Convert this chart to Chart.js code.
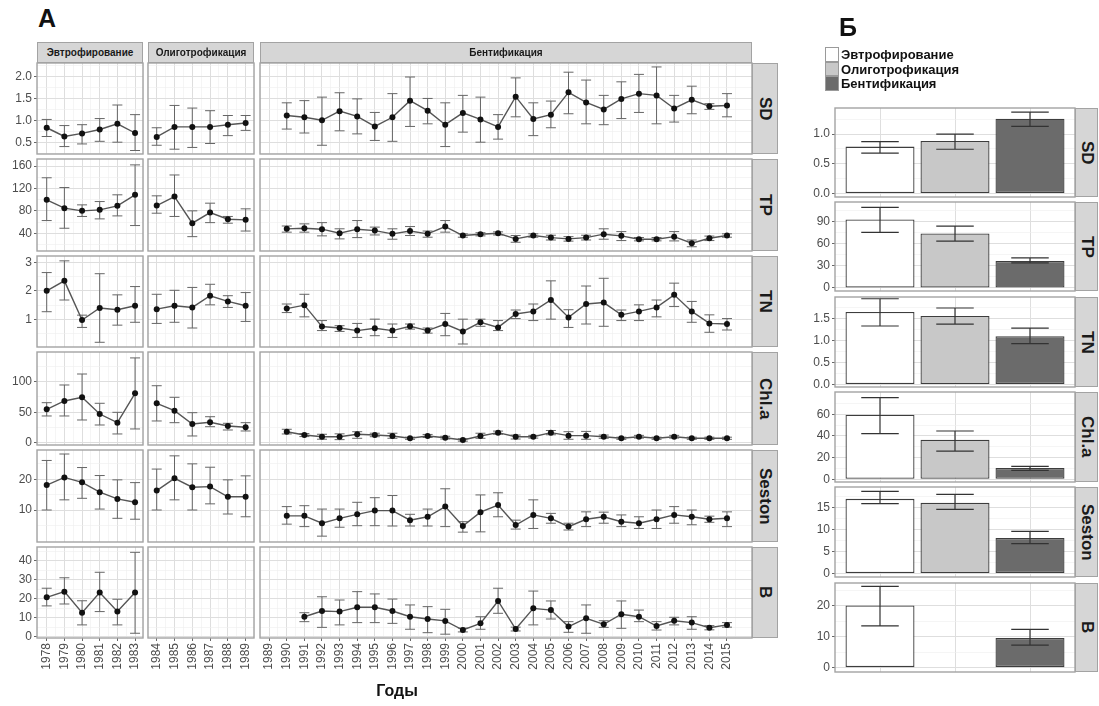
<!DOCTYPE html>
<html>
<head>
<meta charset="utf-8">
<script src="https://cdn.jsdelivr.net/npm/chart.js@4.4.1/dist/chart.umd.min.js"></script>
<style>
  body { margin: 0; width: 1099px; height: 706px; position: relative; overflow: hidden; background: #fff;
         font-family: "Liberation Sans", Arial, sans-serif; }
  canvas, .strip, .txt, .key { position: absolute; }
  .strip { background: #d6d6d6; border: 1px solid #a3a3a3; box-sizing: border-box; display: flex;
           align-items: center; justify-content: center; color: #1a1a1a; font-weight: bold; overflow: hidden; }
  .strip.v span { writing-mode: vertical-rl; }
  .txt { font-weight: bold; color: #111; line-height: 1; white-space: nowrap; }
  .key { border: 1px solid #9a9a9a; box-sizing: border-box; }
</style>
</head>
<body>
<script>
// ─── Данные ──────────────────────────────────────────────────────────────────
const years = [1978, 1979, 1980, 1981, 1982, 1983,
  1984, 1985, 1986, 1987, 1988, 1989,
  1990, 1991, 1992, 1993, 1994, 1995, 1996, 1997, 1998, 1999, 2000, 2001, 2002,
  2003, 2004, 2005, 2006, 2007, 2008, 2009, 2010, 2011, 2012, 2013, 2014, 2015];
const periodNames = ["Эвтрофирование", "Олиготрофикация", "Бентификация"];
const periodStart = [0, 6, 12];
const periodEnd = [6, 12, 38];
const xTicksEut = [1978, 1979, 1980, 1981, 1982, 1983];
const xTicksOlig = [1984, 1985, 1986, 1987, 1988, 1989];
const xTicksBent = [1989, 1990, 1991, 1992, 1993, 1994, 1995, 1996, 1997, 1998, 1999, 2000, 2001, 2002,
  2003, 2004, 2005, 2006, 2007, 2008, 2009, 2010, 2011, 2012, 2013, 2014, 2015];
const varNames = ["SD", "TP", "TN", "Chl.a", "Seston", "B"];

const sd_mean = [0.83, 0.63, 0.70, 0.79, 0.92, 0.71, 0.62, 0.85, 0.85, 0.85, 0.90, 0.94,
  1.11, 1.07, 1.00, 1.21, 1.09, 0.86, 1.07, 1.45, 1.22, 0.90, 1.17, 1.02, 0.85, 1.54, 1.03, 1.13, 1.64, 1.41, 1.25, 1.49, 1.61, 1.57, 1.27, 1.47, 1.32, 1.34];
const sd_lo = [0.63, 0.40, 0.46, 0.52, 0.50, 0.31, 0.43, 0.34, 0.38, 0.47, 0.65, 0.77,
  0.80, 0.71, 0.43, 0.76, 0.69, 0.54, 0.52, 0.86, 0.92, 0.40, 0.73, 0.50, 0.57, 1.08, 0.65, 0.83, 1.15, 0.92, 0.90, 1.04, 1.18, 0.92, 0.96, 1.15, 1.25, 1.08];
const sd_hi = [1.02, 0.88, 0.90, 1.04, 1.35, 1.13, 0.83, 1.34, 1.28, 1.22, 1.11, 1.11,
  1.40, 1.45, 1.53, 1.63, 1.49, 1.18, 1.61, 1.99, 1.50, 1.40, 1.57, 1.53, 1.13, 1.97, 1.40, 1.44, 2.10, 1.92, 1.57, 1.88, 2.05, 2.22, 1.57, 1.78, 1.38, 1.61];

const tp_mean = [99.6, 84.8, 80, 81.8, 89, 108.6, 89.5, 105.5, 58, 77, 65, 64,
  47.9, 49, 47.3, 40, 47.3, 44.8, 39, 44, 39, 52, 36, 38.4, 40, 30, 36, 32.3, 30, 32.3, 38.4, 35.4, 29.4, 29.4, 34, 22.3, 31.2, 36];
const tp_lo = [62.7, 49, 70, 65.7, 71, 53.8, 75.8, 70, 34, 59, 58, 44,
  42, 42, 35.4, 30, 32.3, 37, 29.4, 36, 33, 42, 33, 35.4, 37, 24, 33, 28, 26, 28, 29.4, 27, 26.5, 26.5, 26.4, 16, 27, 33];
const tp_hi = [139, 121.6, 90.7, 96.6, 108.6, 162, 106.8, 144, 80, 93.7, 70, 83.6,
  53, 56.8, 59, 48, 62.7, 51, 48, 52, 44, 62.7, 39, 41, 42.5, 36, 39, 36.5, 34, 36.5, 48, 43, 32.5, 32.5, 43, 28, 35, 39];

const tn_mean = [2.0, 2.35, 0.98, 1.40, 1.34, 1.48, 1.36, 1.48, 1.42, 1.83, 1.63, 1.48,
  1.38, 1.50, 0.75, 0.70, 0.61, 0.69, 0.61, 0.76, 0.61, 0.84, 0.58, 0.90, 0.72, 1.19, 1.28, 1.68, 1.07, 1.54, 1.59, 1.16, 1.28, 1.42, 1.86, 1.28, 0.86, 0.84];
const tn_lo = [1.27, 1.68, 0.72, 0.20, 0.80, 0.90, 0.86, 0.90, 0.70, 1.51, 1.42, 0.93,
  1.24, 1.09, 0.61, 0.58, 0.37, 0.43, 0.37, 0.66, 0.52, 0.43, 0.14, 0.76, 0.61, 1.03, 0.96, 1.01, 0.72, 0.84, 0.76, 0.96, 0.96, 1.09, 1.45, 0.90, 0.55, 0.63];
const tn_hi = [2.64, 3.05, 1.15, 2.60, 1.86, 2.15, 1.88, 2.02, 2.12, 2.23, 1.83, 1.94,
  1.54, 1.88, 0.96, 0.78, 0.86, 1.01, 0.84, 0.84, 0.70, 1.21, 1.01, 1.01, 0.96, 1.33, 1.54, 2.35, 1.34, 2.17, 2.44, 1.33, 1.51, 1.68, 2.27, 1.63, 1.16, 1.03];

const chl_mean = [54.8, 68.4, 74.4, 47, 32.8, 81, 64.6, 52.5, 30.7, 33.4, 27.4, 25.2,
  18, 12.6, 9.8, 9.8, 13.8, 12.6, 11, 7.2, 11, 8.2, 4.4, 11, 16.4, 9.8, 9.8, 16.4, 11.5, 11.5, 9.8, 7.2, 9.8, 7.2, 9.8, 7.2, 7.2, 7.2];
const chl_lo = [43.8, 43.8, 37.2, 29, 14.3, 22.5, 35.6, 32.8, 11, 26.2, 20.8, 19.2,
  14.3, 10, 5.7, 5, 7.2, 9.8, 7.2, 5.5, 8.5, 6, 2.5, 7.2, 13.8, 6, 7.5, 13, 5.6, 5.6, 7.2, 5.5, 7.5, 5.5, 7.5, 5.5, 5.5, 5.5];
const chl_hi = [65.6, 94.6, 112.6, 64.6, 49.8, 139, 93.4, 74.4, 49.2, 42.6, 31.8, 32.8,
  22, 15, 13.8, 14.5, 18, 15.5, 15.5, 9, 13.5, 10.5, 6.5, 15.5, 19, 12.5, 12, 20, 18, 18.5, 12.5, 9, 12, 9, 12, 9, 9, 9];

const ses_mean = [18.1, 20.6, 19.0, 15.8, 13.6, 12.5, 16.3, 20.3, 17.4, 17.6, 14.3, 14.3,
  8.1, 8.1, 5.7, 7.3, 8.6, 9.8, 9.8, 6.7, 7.8, 11.1, 4.8, 9.3, 11.6, 5.1, 8.4, 7.3, 4.6, 7.0, 7.8, 6.2, 5.7, 7.0, 8.4, 7.8, 7.0, 7.3];
const ses_lo = [10, 13.3, 13.8, 10.3, 7.3, 7.0, 10, 13.3, 10, 12, 8.7, 7.8,
  5.4, 4.6, 1.5, 4.4, 4.9, 4.9, 4.8, 4.8, 4.8, 4.6, 2.8, 2.9, 7.8, 3.8, 4.0, 5.7, 3.5, 4.6, 5.7, 4.6, 4.0, 4.0, 5.7, 5.2, 6.0, 4.6];
const ses_hi = [26.1, 28.2, 23.8, 21.2, 19.8, 18.9, 23.3, 27.6, 25, 23.9, 19.8, 21.1,
  11.1, 11.4, 10.3, 10.3, 12.5, 14, 14.7, 8.6, 10.3, 16.9, 6.2, 14.9, 15.6, 6.7, 13.3, 8.9, 5.7, 9.4, 9.3, 8.4, 7.8, 10, 11.1, 10, 8.0, 9.4];

const b_mean = [20.7, 23.7, 12.6, 23.2, 13.2, 23.2, null, null, null, null, null, null,
  null, 10.5, 13.5, 13.2, 15.5, 15.5, 13.5, 10.5, 9.3, 8.3, 3.5, 7.0, 18.8, 4.0, 14.9, 14, 5.3, 9.7, 6.5, 11.8, 10.5, 5.6, 8.4, 7.4, 4.7, 6.2];
const b_lo = [16.2, 17.2, 6.2, 13.2, 6.2, 1.8, null, null, null, null, null, null,
  null, 7.9, 4.9, 6.2, 7.4, 7.4, 7.0, 3.9, 2.1, 1.3, 2.5, 3.9, 12.3, 3.0, 6.2, 9.3, 2.3, 1.8, 4.9, 4.4, 7.9, 3.5, 6.2, 3.9, 3.6, 5.0];
const b_hi = [25.5, 31, 18.9, 33.9, 19.7, 44.4, null, null, null, null, null, null,
  null, 12.6, 21, 19.3, 23.7, 22.5, 19.8, 16.7, 15.8, 14.4, 4.5, 10.5, 25.5, 5.0, 24, 18.8, 7.9, 16.7, 8.4, 18.8, 14, 7.9, 10.2, 10.5, 5.8, 7.4];

// средние по периодам (панель Б), порядок как в varNames
const eut_mean = [0.79, 93.3, 1.65, 59.7, 17.0, 20.1];
const eut_lo = [0.68, 75.6, 1.33, 42.2, 15.9, 13.5];
const eut_hi = [0.875, 109.7, 1.95, 75.4, 18.7, 26.3];
const olig_mean = [0.886, 74.2, 1.56, 36.6, 16.1, null];
const olig_lo = [0.746, 63.7, 1.375, 26.1, 14.6, null];
const olig_hi = [1.0, 84.2, 1.74, 44.6, 18.0, null];
const bent_mean = [1.26, 36.8, 1.10, 10.4, 8.1, 9.6];
const bent_lo = [1.13, 34.1, 0.93, 8.3, 6.8, 7.3];
const bent_hi = [1.37, 40.9, 1.28, 12.0, 9.6, 12.4];

// тики осей Y
const yTicksA = [[0.5, 1.0, 1.5, 2.0], [40, 80, 120, 160], [1, 2, 3], [0, 50, 100], [10, 20], [0, 10, 20, 30, 40]];
const yTicksB = [[0, 0.5, 1.0], [0, 30, 60, 90], [0, 0.5, 1.0, 1.5], [0, 20, 40, 60], [0, 5, 10, 15], [0, 10, 20]];

// ─── Раскладка ───────────────────────────────────────────────────────────────
const colL = [37, 148, 260], colR = [143, 254, 752];
const rowT = [63, 159, 256, 352, 450, 547], rowB = [154, 251, 347, 445, 542, 638];
const xMinA = [1977.45, 1983.51, 1988.48], xMaxA = [1983.45, 1989.47, 2016.42];
const yMinA = [0.23, 8.4, 0.035, -3.8, -0.4, -0.7], yMaxA = [2.31, 172.5, 3.22, 148.7, 29.5, 47.2];
const yMinorA = [[0.25, 0.75, 1.25, 1.75, 2.25], [20, 60, 100, 140], [0.5, 1.5, 2.5], [25, 75, 125], [5, 15, 25], [5, 15, 25, 35, 45]];
const digitsA = [1, 0, 0, 0, 0, 0];

const bL = 835, bR = 1075;
const rowTB = [108, 202, 297, 392, 487, 583], rowBB = [197, 291, 387, 482, 577, 672];
const yMinB = [-0.058, -4.1, -0.057, -2.5, -0.77, -1.4], yMaxB = [1.44, 117, 1.99, 80.6, 19.7, 27.4];
const yMinorB = [[0.25, 0.75, 1.25], [15, 45, 75, 105], [0.25, 0.75, 1.25, 1.75], [10, 30, 50, 70], [2.5, 7.5, 12.5, 17.5], [5, 15, 25]];
const digitsB = [1, 0, 1, 0, 0, 0];

const PAD = 3;
const GRID_MAJ = "#dedede", GRID_MIN = "#efefef";

Chart.defaults.font.family = "'Liberation Sans', Arial, sans-serif";
Chart.defaults.animation = false;

// ─── Плагины ─────────────────────────────────────────────────────────────────
function drawErrors(chart, o) {
  const { ctx, scales: { x, y } } = chart;
  ctx.save();
  ctx.strokeStyle = o.color || "#666";
  ctx.lineWidth = o.width || 1;
  chart.data.datasets.forEach(ds => {
    if (!ds.lo) return;
    ds.data.forEach((p, i) => {
      if (p.y == null || ds.lo[i] == null) return;
      const px = x.getPixelForValue(p.x);
      const y1 = y.getPixelForValue(ds.lo[i]), y2 = y.getPixelForValue(ds.hi[i]);
      const hw = o.capUnits ? x.getPixelForValue(p.x + o.capUnits / 2) - px : (o.cap || 5);
      ctx.beginPath();
      ctx.moveTo(px, y1); ctx.lineTo(px, y2);
      ctx.moveTo(px - hw, y1); ctx.lineTo(px + hw, y1);
      ctx.moveTo(px - hw, y2); ctx.lineTo(px + hw, y2);
      ctx.stroke();
    });
  });
  ctx.restore();
}
const errorBars = {
  id: "errorBars",
  beforeDatasetsDraw(chart, args, o) { if (!o.after) drawErrors(chart, o); },
  afterDatasetsDraw(chart, args, o) { if (o.after) drawErrors(chart, o); },
};
const frame = {
  id: "frame",
  afterDraw(chart) {
    const { ctx, chartArea: a } = chart;
    ctx.save();
    ctx.strokeStyle = "#a3a3a3";
    ctx.lineWidth = 1.4;
    ctx.strokeRect(a.left, a.top, a.right - a.left, a.bottom - a.top);
    ctx.restore();
  },
};
Chart.register(errorBars, frame);

// ─── Вспомогательные ─────────────────────────────────────────────────────────
function makeCanvas(left, top, w, h) {
  const c = document.createElement("canvas");
  c.width = w; c.height = h;
  c.style.left = left + "px"; c.style.top = top + "px";
  c.style.width = w + "px"; c.style.height = h + "px";
  document.body.appendChild(c);
  return c;
}

function axis({ min, max, major, minor, show, size, vertical, fmt }) {
  const isMaj = c => c.tick && major.includes(c.tick.value);
  return {
    type: "linear", min, max, offset: false,
    afterBuildTicks: s => { s.ticks = major.concat(minor).sort((a, b) => a - b).map(v => ({ value: v })); },
    afterFit: s => {
      if (vertical) s.width = size; else s.height = size;
      s.paddingTop = s.paddingBottom = s.paddingLeft = s.paddingRight = 0;
    },
    ticks: {
      display: show, autoSkip: false, color: "#4d4d4d", font: { size: 12 }, padding: 2,
      minRotation: vertical ? 0 : 90, maxRotation: vertical ? 0 : 90,
      callback: v => major.includes(v) ? fmt(v) : "",
    },
    grid: {
      offset: false,
      color: c => isMaj(c) ? GRID_MAJ : GRID_MIN,
      lineWidth: c => isMaj(c) ? 1 : 0.6,
      drawTicks: show, tickLength: 3,
      tickColor: c => isMaj(c) ? "#666" : "rgba(0,0,0,0)",
    },
    border: { display: false },
  };
}

function strip(l, t, w, h, text, vertical, size) {
  const d = document.createElement("div");
  d.className = "strip" + (vertical ? " v" : "");
  Object.assign(d.style, { left: l + "px", top: t + "px", width: w + "px", height: h + "px", fontSize: size + "px" });
  const s = document.createElement("span");
  s.textContent = text;
  d.appendChild(s);
  document.body.appendChild(d);
  return s;
}

function label(text, l, t, size, center) {
  const d = document.createElement("div");
  d.className = "txt";
  d.textContent = text;
  Object.assign(d.style, { left: l + "px", top: t + "px", fontSize: size + "px" });
  if (center) d.style.transform = "translateX(-50%)";
  document.body.appendChild(d);
}

// ─── Панель А: динамика по годам ─────────────────────────────────────────────
const meansA = [sd_mean, tp_mean, tn_mean, chl_mean, ses_mean, b_mean];
const losA = [sd_lo, tp_lo, tn_lo, chl_lo, ses_lo, b_lo];
const hisA = [sd_hi, tp_hi, tn_hi, chl_hi, ses_hi, b_hi];
const xTicksA = [xTicksEut, xTicksOlig, xTicksBent];

for (let r = 0; r < 6; r++) {
  for (let c = 0; c < 3; c++) {
    const W = c === 0 ? 37 : 0, XH = r === 5 ? 50 : 0;
    const pw = colR[c] - colL[c], ph = rowB[r] - rowT[r];
    const cv = makeCanvas(colL[c] - W - PAD, rowT[r] - PAD, pw + W + 2 * PAD, ph + XH + 2 * PAD);
    const idx = [];
    for (let i = periodStart[c]; i < periodEnd[c]; i++) if (meansA[r][i] != null) idx.push(i);
    const xt = xTicksA[c];
    const xMinor = xt.map(v => v - 0.5).concat([xt[xt.length - 1] + 0.5]);
    new Chart(cv, {
      type: "line",
      data: {
        datasets: [{
          data: idx.map(i => ({ x: years[i], y: meansA[r][i] })),
          lo: idx.map(i => losA[r][i]),
          hi: idx.map(i => hisA[r][i]),
          borderColor: "#555", borderWidth: 1.4, tension: 0,
          pointRadius: 3, pointBackgroundColor: "#111", pointBorderColor: "#111", pointBorderWidth: 0,
        }],
      },
      options: {
        responsive: false, events: [],
        layout: { padding: PAD, autoPadding: false },
        plugins: { legend: { display: false }, tooltip: { enabled: false },
          errorBars: { cap: 5, color: "#666", width: 1, after: false } },
        scales: {
          x: axis({ min: xMinA[c], max: xMaxA[c], major: xt, minor: xMinor, show: r === 5, size: XH,
            vertical: false, fmt: v => String(v) }),
          y: axis({ min: yMinA[r], max: yMaxA[r], major: yTicksA[r], minor: yMinorA[r], show: c === 0, size: W,
            vertical: true, fmt: v => v.toFixed(digitsA[r]) }),
        },
      },
    });
  }
  strip(752, rowT[r], 26, rowB[r] - rowT[r], varNames[r], true, 17);
}
strip(colL[0], 42, colR[0] - colL[0], 21, periodNames[0], false, 10);
strip(colL[1], 42, colR[1] - colL[1], 21, periodNames[1], false, 10);
strip(colL[2], 42, colR[2] - colL[2], 21, periodNames[2], false, 10);

// ─── Панель Б: средние по периодам ───────────────────────────────────────────
const fills = ["#ffffff", "#c8c8c8", "#6b6b6b"];
for (let r = 0; r < 6; r++) {
  const W = 40;
  const pw = bR - bL, ph = rowBB[r] - rowTB[r];
  const cv = makeCanvas(bL - W - PAD, rowTB[r] - PAD, pw + W + 2 * PAD, ph + 2 * PAD);
  const vals = [eut_mean[r], olig_mean[r], bent_mean[r]];
  new Chart(cv, {
    type: "bar",
    data: {
      datasets: [{
        data: vals.map((v, i) => ({ x: i, y: v })),
        lo: [eut_lo[r], olig_lo[r], bent_lo[r]],
        hi: [eut_hi[r], olig_hi[r], bent_hi[r]],
        backgroundColor: fills, borderColor: "#3d3d3d", borderWidth: 1.3, borderSkipped: false,
        barPercentage: 0.92, categoryPercentage: 1,
      }],
    },
    options: {
      responsive: false, events: [],
      layout: { padding: PAD, autoPadding: false },
      plugins: { legend: { display: false }, tooltip: { enabled: false },
        errorBars: { capUnits: 0.5, color: "#333", width: 1.2, after: true } },
      scales: {
        x: axis({ min: -0.6, max: 2.6, major: [0, 1, 2], minor: [], show: false, size: 0,
          vertical: false, fmt: v => "" }),
        y: axis({ min: yMinB[r], max: yMaxB[r], major: yTicksB[r], minor: yMinorB[r], show: true, size: W,
          vertical: true, fmt: v => v.toFixed(digitsB[r]) }),
      },
    },
  });
  strip(bR, rowTB[r], 23, ph, varNames[r], true, 17);
}

// легенда
const keyTops = [47, 61.5, 76];
periodNames.forEach((n, i) => {
  const k = document.createElement("div");
  k.className = "key";
  Object.assign(k.style, { left: "825px", top: keyTops[i] + "px", width: "14px", height: "14.5px", background: fills[i] });
  document.body.appendChild(k);
  label(n, 841, keyTops[i] + 1, 13, false);
});

label("А", 38, 6, 25, false);
label("Б", 839, 15, 25, false);
label("Годы", 397, 683, 16, true);
</script>
</body>
</html>
